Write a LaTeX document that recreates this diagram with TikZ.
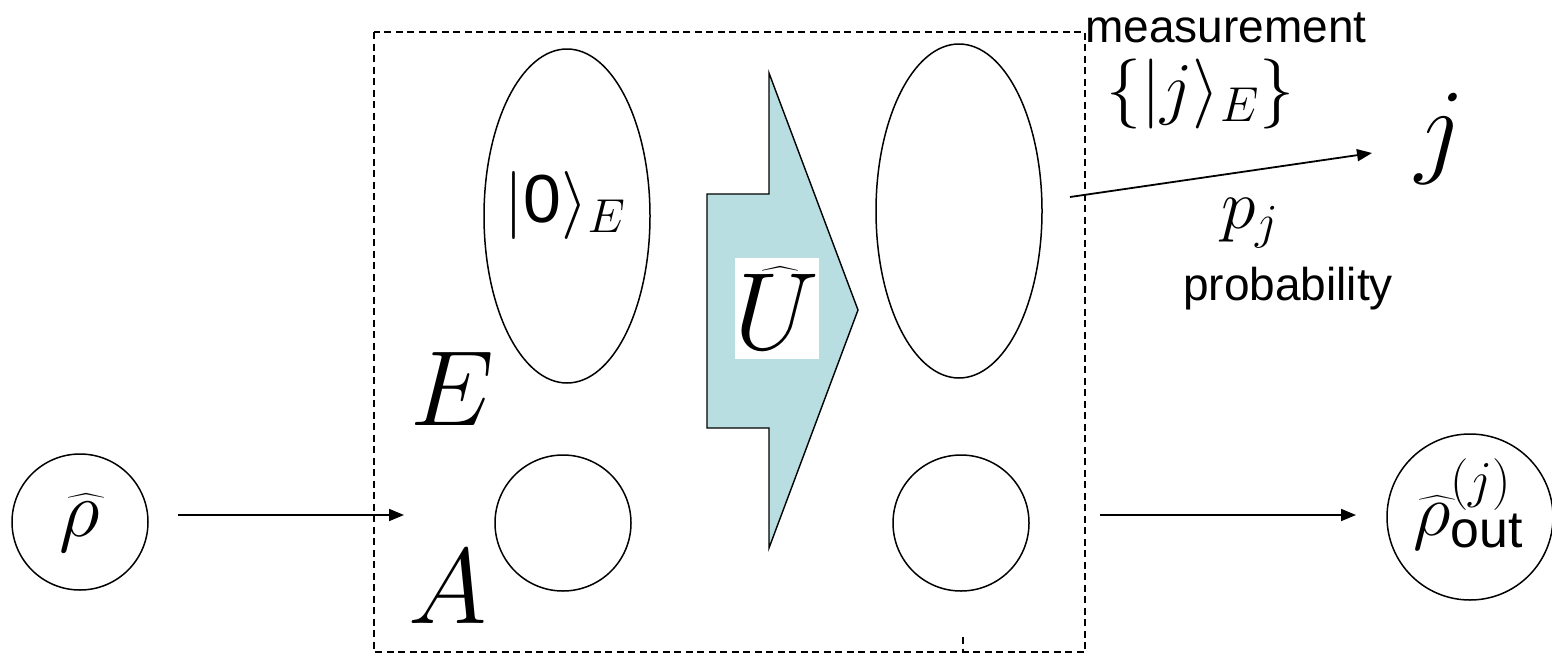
\RequirePackage{fix-cm}
\documentclass[tikz,border=0pt]{standalone}
\usepackage{amsmath}
\usepackage{fontspec}
\newfontfamily\arial{Liberation Sans}
\usetikzlibrary{shapes.geometric,arrows.meta}
\definecolor{ucyan}{RGB}{184,222,225}
\tikzset{
  outline/.style={draw, line width=1.5pt, inner sep=0pt},
  circ/.style={outline, circle, minimum size=#1},
  oval/.style={outline, ellipse},
  conn/.style={line width=1.8pt, -{Triangle[length=15pt,width=12pt]}},
  fs/.style={font=\fontsize{#1}{#1}\selectfont},
  lbl/.style={inner sep=0pt},
  dashbox/.style={line width=1.3pt, dash pattern=on 7pt off 4.5pt},
}
\begin{document}
\begin{tikzpicture}[x=1pt,y=-1pt]
\useasboundingbox (0,0) rectangle (1552,654);
% dashed box
\draw[dashbox] (374,32) rectangle (1085,652);
\draw[dashbox] (963,637) -- (963,652);
% unitary arrow shape
\filldraw[fill=ucyan, line width=1.4pt] (707,194) -- (769,194) -- (769,73) -- (858,310) -- (769,548) -- (769,428) -- (707,428) -- cycle;
\node[fill=white, minimum width=81pt, minimum height=101pt, inner sep=0pt, fs=110] (U) at (777,308) {$\widehat{U}$};
% systems
\node[circ=136pt] (rho) at (80,522) {};
\node[fs=80, lbl] (rhot) at (80,523) {$\widehat{\rho}$};
\node[oval, minimum width=166pt, minimum height=334pt] (env1) at (567,216) {};
\node[fs=68, lbl, anchor=base] (zero) at (565,222) {$\lvert\text{\arial 0}\rangle_E$};
\node[circ=136pt] (sys1) at (563,523) {};
\node[oval, minimum width=166pt, minimum height=334pt] (env2) at (959,211) {};
\node[circ=136pt] (sys2) at (961,523) {};
\node[circ=166pt] (outc) at (1470,517) {};
\node[fs=74, lbl] (outt) at (1468,504) {$\widehat{\rho}^{(j)}_{\text{\arial out}}$};
% labels
\node[fs=107, anchor=base, lbl] (Elab) at (452,425) {$E$};
\node[fs=107, anchor=base, lbl] (Alab) at (448,623) {$A$};
\node[fs=46, anchor=base west, lbl] (meas) at (1085,42) {\arial measurement};
\node[fs=70, anchor=base west, lbl] (basis) at (1106,111) {$\{\lvert j\rangle_E\}$};
\node[fs=107, anchor=base, lbl] (jout) at (1440,163) {$j$};
\node[fs=70, anchor=base, lbl] (pj) at (1250,228) {$p_j$};
\node[fs=46, anchor=base, lbl] (prob) at (1288,300) {\arial probability};
% connectors
\coordinate (a1s) at (178,515); \coordinate (a1e) at (404,515);
\coordinate (a2s) at (1100,515); \coordinate (a2e) at (1356,515);
\coordinate (a3s) at (1070,197); \coordinate (a3e) at (1372,153);
\draw[conn] (a1s) -- (a1e);
\draw[conn] (a2s) -- (a2e);
\draw[conn] (a3s) -- (a3e);
\end{tikzpicture}
\end{document}
